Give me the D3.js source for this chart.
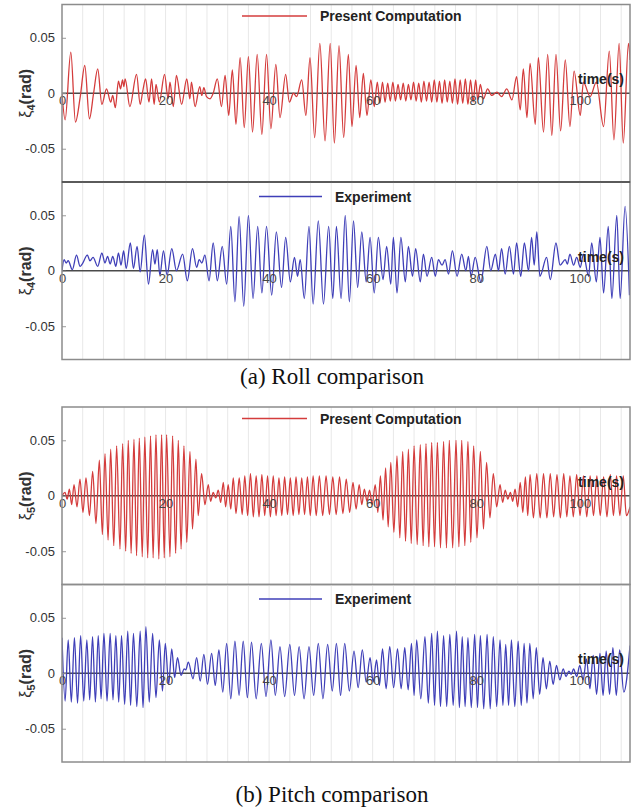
<!DOCTYPE html>
<html>
<head>
<meta charset="utf-8">
<script src="https://cdn.jsdelivr.net/npm/d3@7"></script>
<style>
body{margin:0;background:#fff;}
svg{display:block;font-family:"Liberation Sans",Arial,sans-serif;}
</style>
</head>
<body>
<script>
// extrema of each record, [time (s), angle (rad)]
const rollComputation = [[0,0],[0.6,-0.024],[1.7,0.037],[2.6,-0.026],[3.5,-0.004],[4.4,0.025],[5.3,-0.023],[6.1,0.0],[6.9,0.022],[7.7,-0.010],[8.6,0.004],[9.4,-0.008],[9.8,-0.002],[10.3,-0.013],[10.9,0.011],[11.3,0.004],[11.7,0.012],[11.95,0.006],[12.2,0.013],[13.1,-0.012],[14.4,0.017],[15.1,-0.010],[15.6,0.002],[16.15,0.013],[16.8,-0.008],[17.3,0.013],[17.8,-0.010],[18.15,0.008],[18.8,-0.008],[19.8,0.017],[20.5,-0.005],[20.85,0.010],[21.5,-0.012],[22.1,0.016],[23.1,-0.010],[24.1,0.013],[24.7,-0.005],[25.0,0.010],[25.7,-0.012],[26.6,0.006],[27.0,-0.002],[27.4,0.005],[27.9,-0.003],[28.6,-0.005],[29.2,0.000],[30.0,0.013],[30.8,-0.012],[31.5,0.016],[32.2,-0.020],[32.9,0.021],[33.6,-0.028],[34.4,0.032],[35.2,-0.031],[36.0,0.033],[36.8,-0.035],[37.7,0.035],[38.6,-0.037],[39.5,0.035],[40.35,-0.032],[41.3,0.026],[42.1,-0.022],[43.2,0.017],[43.9,-0.008],[44.7,0.000],[45.3,-0.003],[46.3,0.012],[47.1,-0.020],[47.9,0.032],[48.8,-0.040],[49.8,0.045],[50.8,-0.043],[51.8,0.045],[52.6,-0.045],[53.5,0.043],[54.4,-0.040],[55.3,0.035],[56.0,-0.030],[56.8,0.025],[57.5,-0.022],[58.2,0.018],[58.9,-0.020],[59.65,0.012],[60.3,-0.012],[60.9,0.010],[61.4,-0.009],[61.9,0.010],[62.4,-0.008],[62.9,0.009],[63.4,-0.007],[63.9,0.010],[64.4,-0.007],[64.9,0.008],[65.4,-0.006],[65.9,0.009],[66.4,-0.007],[66.9,0.008],[67.4,-0.006],[67.9,0.010],[68.4,-0.007],[68.9,0.009],[69.4,-0.008],[69.9,0.011],[70.4,-0.007],[70.9,0.010],[71.4,-0.008],[71.9,0.012],[72.4,-0.008],[72.9,0.011],[73.4,-0.009],[73.9,0.012],[74.4,-0.008],[74.9,0.011],[75.4,-0.009],[75.9,0.013],[76.4,-0.010],[76.9,0.012],[77.4,-0.009],[77.9,0.013],[78.4,-0.010],[78.9,0.012],[79.4,-0.008],[79.9,0.012],[80.3,-0.006],[80.8,0.008],[81.4,-0.005],[82.2,0.004],[83.0,-0.002],[84.0,0.001],[84.9,-0.003],[85.9,0.004],[86.9,-0.006],[87.8,0.015],[88.5,-0.015],[89.1,0.022],[89.8,-0.022],[90.4,0.027],[91.4,-0.028],[92.0,0.032],[93.0,-0.035],[93.8,0.035],[94.6,-0.038],[95.4,0.035],[96.3,-0.034],[97.2,0.030],[98.1,-0.030],[98.9,0.020],[100.1,-0.020],[100.7,0.010],[102.0,-0.003],[103.2,0.010],[104.6,-0.030],[105.7,0.038],[106.6,-0.042],[107.6,0.045],[108.4,-0.045],[109.4,0.045],[109.7,0.030]];

const rollExperiment = [[0,0.000],[0.4,0.010],[0.8,0.007],[1.2,0.009],[2.0,0.001],[2.8,0.014],[3.5,0.004],[3.9,0.006],[4.9,0.014],[5.4,0.009],[6.0,0.012],[6.9,0.004],[7.7,0.016],[8.3,0.007],[8.8,0.013],[9.3,0.006],[9.8,0.013],[10.4,0.004],[10.9,0.016],[11.4,0.005],[11.9,0.018],[12.4,0.002],[13.2,0.025],[13.8,0.002],[14.5,0.022],[15.1,-0.001],[15.9,0.032],[16.7,-0.012],[17.5,0.019],[17.95,0.006],[18.4,0.019],[18.9,-0.004],[19.6,0.018],[20.3,-0.004],[21.2,0.020],[22.1,0.000],[23.3,0.015],[24.2,-0.009],[25.2,0.020],[26.0,0.003],[26.5,0.010],[27.0,0.007],[27.6,0.014],[28.4,-0.009],[29.2,0.025],[30.0,-0.009],[30.95,0.022],[31.8,-0.012],[32.6,0.040],[33.4,-0.028],[34.2,0.049],[35.1,-0.032],[36.0,0.050],[36.9,-0.025],[37.8,0.040],[38.6,-0.020],[39.5,0.040],[40.5,-0.022],[41.4,0.035],[42.4,-0.015],[43.2,0.030],[44.1,-0.010],[44.9,0.012],[45.5,-0.005],[46.0,0.010],[46.8,-0.025],[47.7,0.040],[48.5,-0.030],[49.5,0.045],[50.5,-0.030],[51.5,0.040],[52.3,-0.025],[53.0,0.040],[53.9,-0.025],[54.7,0.050],[55.5,-0.028],[56.3,0.045],[57.1,-0.015],[57.9,0.035],[58.75,-0.010],[59.5,0.030],[60.3,-0.020],[61.1,0.030],[62.0,-0.008],[62.7,0.022],[63.5,-0.012],[64.0,0.030],[64.7,-0.020],[65.45,0.030],[66.3,-0.010],[66.9,0.022],[67.7,-0.005],[68.3,0.020],[69.2,-0.010],[69.8,0.015],[70.5,-0.005],[71.4,0.012],[72.1,-0.005],[72.7,0.010],[73.4,0.005],[74.0,0.010],[74.65,-0.003],[75.4,0.018],[76.3,-0.005],[77.2,0.015],[78.0,0.000],[78.5,0.013],[79.0,-0.005],[79.8,0.012],[80.9,-0.010],[82.05,0.022],[82.8,0.000],[83.7,0.015],[84.3,0.000],[84.9,0.020],[85.6,-0.003],[86.4,0.022],[87.2,-0.003],[87.8,0.025],[88.6,-0.005],[89.3,0.025],[90.1,0.000],[90.7,0.030],[91.2,0.005],[91.7,0.035],[92.3,-0.005],[93.6,0.012],[94.3,-0.008],[95.4,0.025],[96.2,0.005],[97.2,0.010],[97.6,0.006],[98.1,0.015],[98.8,0.005],[99.4,0.012],[100.1,0.003],[100.7,0.015],[101.7,-0.005],[102.3,0.025],[103.2,-0.010],[103.9,0.030],[104.6,-0.020],[105.5,0.040],[106.2,-0.025],[107.15,0.050],[107.8,-0.025],[108.75,0.058],[109.6,-0.022]];

const pitchComputation = [[0,0],[0.58,0.003],[1.0,-0.003],[1.42,0.006],[1.87,-0.008],[2.32,0.010],[2.9,-0.010],[3.47,0.015],[4.05,-0.015],[4.63,0.016],[5.3,-0.018],[5.92,0.022],[6.56,-0.025],[7.21,0.032],[7.8,-0.035],[8.3,0.038],[8.9,-0.040],[9.4,0.042],[10.0,-0.045],[10.55,0.045],[11.2,-0.048],[11.71,0.047],[12.3,-0.050],[12.8,0.050],[13.35,-0.052],[13.9,0.051],[14.4,-0.054],[14.93,0.052],[15.5,-0.055],[16.0,0.053],[16.55,-0.056],[17.1,0.054],[17.6,-0.056],[18.15,0.055],[18.7,-0.057],[19.24,0.055],[19.75,-0.056],[20.2,0.055],[20.85,-0.055],[21.36,0.054],[21.95,-0.052],[22.46,0.050],[23.0,-0.048],[23.55,0.045],[24.1,-0.042],[24.71,0.040],[25.2,-0.030],[25.87,0.033],[26.3,-0.018],[26.96,0.020],[27.6,-0.008],[28.25,0.010],[28.7,-0.005],[29.2,0.003],[29.7,-0.002],[30.18,0.005],[30.65,-0.006],[31.15,0.012],[31.6,-0.010],[32.1,0.010],[32.6,-0.012],[33.08,0.016],[33.6,-0.016],[34.23,0.016],[34.8,-0.017],[35.3,0.018],[35.85,-0.018],[36.4,0.020],[36.95,-0.019],[37.5,0.018],[38.05,-0.019],[38.6,0.019],[39.15,-0.018],[39.7,0.018],[40.25,-0.019],[40.8,0.018],[41.35,-0.018],[41.9,0.016],[42.45,-0.018],[43.0,0.017],[43.55,-0.017],[44.1,0.016],[44.65,-0.018],[45.2,0.017],[45.75,-0.017],[46.3,0.016],[46.85,-0.017],[47.4,0.017],[47.95,-0.018],[48.5,0.018],[49.1,-0.018],[49.7,0.018],[50.35,-0.018],[51.0,0.018],[51.65,-0.017],[52.3,0.017],[52.95,-0.017],[53.6,0.017],[54.25,-0.016],[54.9,0.015],[55.55,-0.015],[56.2,0.012],[56.8,-0.012],[57.4,0.010],[57.9,-0.008],[58.4,0.006],[58.9,-0.005],[59.4,0.005],[59.9,-0.008],[60.5,0.010],[61.0,-0.015],[61.5,0.018],[62.0,-0.022],[62.5,0.025],[63.0,-0.028],[63.5,0.030],[64.1,-0.033],[64.7,0.036],[65.25,-0.038],[65.8,0.040],[66.35,-0.041],[66.9,0.042],[67.45,-0.043],[68.0,0.045],[68.6,-0.044],[69.2,0.046],[69.75,-0.045],[70.3,0.047],[70.85,-0.046],[71.4,0.048],[71.95,-0.046],[72.5,0.048],[73.1,-0.047],[73.7,0.049],[74.25,-0.047],[74.8,0.050],[75.45,-0.047],[76.1,0.050],[76.65,-0.046],[77.2,0.050],[77.8,-0.045],[78.4,0.049],[78.95,-0.042],[79.5,0.045],[80.15,-0.038],[80.8,0.040],[81.4,-0.030],[82.0,0.030],[82.65,-0.020],[83.3,0.020],[83.95,-0.010],[84.6,0.010],[85.1,-0.006],[85.6,0.005],[86.1,-0.003],[86.6,0.003],[87.05,-0.005],[87.5,0.006],[88.0,-0.010],[88.5,0.012],[89.0,-0.015],[89.5,0.017],[89.95,-0.018],[90.4,0.019],[91.05,-0.020],[91.7,0.020],[92.35,-0.020],[93.0,0.020],[93.65,-0.020],[94.3,0.020],[94.95,-0.019],[95.6,0.019],[96.25,-0.020],[96.9,0.020],[97.5,-0.019],[98.1,0.018],[98.75,-0.019],[99.4,0.019],[100.05,-0.018],[100.7,0.018],[101.35,-0.019],[102.0,0.018],[102.65,-0.018],[103.3,0.018],[103.95,-0.018],[104.6,0.017],[105.25,-0.019],[105.9,0.019],[106.5,-0.018],[107.1,0.018],[107.75,-0.018],[108.4,0.018],[109.0,-0.018],[109.7,-0.010]];

const pitchExperiment = [[0,0.032],[0.6,-0.025],[1.2,0.030],[1.8,-0.026],[2.4,0.032],[3.0,-0.027],[3.6,0.034],[4.2,-0.025],[4.8,0.030],[5.35,-0.024],[5.9,0.033],[6.45,-0.026],[7.0,0.034],[7.55,-0.023],[8.1,0.036],[8.7,-0.025],[9.3,0.036],[9.85,-0.024],[10.4,0.034],[10.95,-0.026],[11.5,0.034],[12.1,-0.028],[12.7,0.038],[13.25,-0.029],[13.8,0.036],[14.45,-0.030],[15.1,0.038],[15.65,-0.031],[16.2,0.042],[16.85,-0.026],[17.5,0.036],[18.15,-0.022],[18.8,0.030],[19.4,-0.016],[19.95,0.027],[20.6,-0.010],[21.2,0.022],[21.75,-0.004],[22.3,0.014],[23.0,-0.002],[23.6,0.004],[23.9,0.003],[24.4,0.010],[25.3,-0.005],[26.0,0.014],[26.7,-0.007],[27.4,0.017],[28.1,-0.010],[28.9,0.018],[29.6,-0.011],[30.3,0.021],[31.05,-0.017],[31.8,0.027],[32.6,-0.023],[33.4,0.029],[34.2,-0.020],[35.0,0.029],[35.8,-0.022],[36.6,0.028],[37.5,-0.023],[38.5,0.027],[39.4,-0.021],[40.35,0.030],[41.2,-0.020],[42.1,0.024],[43.0,-0.021],[44.0,0.026],[44.9,-0.020],[45.8,0.024],[46.75,-0.023],[47.7,0.024],[48.6,-0.020],[49.5,0.027],[50.4,-0.023],[51.3,0.026],[52.2,-0.016],[53.0,0.027],[53.8,-0.020],[54.6,0.027],[55.5,-0.016],[56.4,0.020],[57.2,-0.013],[58.0,0.021],[58.75,-0.008],[59.5,0.014],[60.1,-0.008],[60.75,0.012],[61.3,-0.011],[61.9,0.022],[62.6,-0.014],[63.3,0.024],[64.05,-0.013],[64.8,0.022],[65.5,-0.014],[66.2,0.023],[66.85,-0.015],[67.5,0.027],[68.0,-0.020],[68.5,0.030],[69.3,-0.023],[70.1,0.033],[70.75,-0.027],[71.4,0.036],[71.95,-0.029],[72.5,0.038],[73.1,-0.030],[73.7,0.034],[74.3,-0.030],[74.9,0.035],[75.55,-0.029],[76.2,0.038],[76.75,-0.031],[77.3,0.033],[77.85,-0.030],[78.4,0.032],[79.05,-0.031],[79.7,0.035],[80.25,-0.031],[80.8,0.034],[81.45,-0.032],[82.1,0.035],[82.7,-0.032],[83.3,0.033],[83.95,-0.030],[84.6,0.030],[85.15,-0.029],[85.7,0.026],[86.25,-0.029],[86.8,0.030],[87.45,-0.030],[88.1,0.029],[88.7,-0.029],[89.25,0.027],[89.8,-0.027],[90.35,0.027],[91.0,-0.023],[91.6,0.023],[92.25,-0.019],[92.9,0.014],[93.55,-0.014],[94.2,0.011],[94.85,-0.010],[95.5,0.007],[96.15,-0.006],[96.8,0.004],[97.35,-0.003],[97.9,0.002],[98.35,-0.001],[98.8,0.004],[99.4,-0.003],[100.0,0.007],[100.65,-0.006],[101.3,0.013],[101.95,-0.014],[102.6,0.016],[103.25,-0.019],[103.9,0.018],[104.5,-0.020],[105.1,0.020],[105.75,-0.019],[106.4,0.023],[107.05,-0.020],[107.7,0.021],[108.5,-0.017],[109.7,0.025]];

const xTicks = [0, 20, 40, 60, 80, 100];
const yTicks = [-0.05, 0, 0.05];
const yTickLabels = ["-0.05", "0", "0.05"];
const legendNames = ["Present Computation", "Experiment"];
const captions = ["(a) Roll comparison", "(b) Pitch comparison"];

const W = 637, H = 811;
const left = 62, right = 630, panelH = 177.5;
const red = "#d43c3c", blue = "#3f3fb8";

const svg = d3.select("body").append("svg").attr("width", W).attr("height", H);

const x = d3.scaleLinear().domain([0, 109.7]).range([left, right]);

const panels = [
  {data: rollComputation, top: 4.5, color: red, legend: 0, sub: "4", legendDy: 11.5},
  {data: rollExperiment, top: 182, color: blue, legend: 1, sub: "4", legendDy: 14.5},
  {data: pitchComputation, top: 407, color: red, legend: 0, sub: "5", legendDy: 11.5},
  {data: pitchExperiment, top: 584.5, color: blue, legend: 1, sub: "5", legendDy: 14.5}
];

panels.forEach((p, i) => {
  const y = d3.scaleLinear().domain([-0.08, 0.08]).range([p.top + panelH, p.top]);
  const g = svg.append("g");

  svg.append("clipPath").attr("id", "clip" + i).append("rect")
    .attr("x", left).attr("y", p.top).attr("width", right - left).attr("height", panelH);

  // light vertical grid
  g.selectAll(".grid").data(d3.range(4, 109.7, 4)).join("line")
    .attr("x1", d => x(d)).attr("x2", d => x(d))
    .attr("y1", p.top).attr("y2", p.top + panelH)
    .attr("stroke", "#e8e8e8").attr("stroke-width", 1);

  // zero axis
  g.append("line").attr("x1", left).attr("x2", right).attr("y1", y(0)).attr("y2", y(0))
    .attr("stroke", "#4a4a4a").attr("stroke-width", 1.3);

  const line = d3.line().x(d => x(d[0])).y(d => y(d[1])).curve(d3.curveMonotoneX);
  g.append("path").datum(p.data).attr("d", line)
    .attr("clip-path", `url(#clip${i})`)
    .attr("fill", "none").attr("stroke", p.color).attr("stroke-width", 1.3);

  // x tick labels sit on the zero line
  const xAxis = d3.axisBottom(x).tickValues(xTicks).tickSize(0).tickPadding(3);
  const xa = g.append("g").attr("transform", `translate(0,${y(0)})`).call(xAxis);
  xa.select(".domain").remove();
  xa.selectAll("text").attr("font-size", 13).attr("fill", "#444")
    .attr("font-family", "'Liberation Sans',Arial,sans-serif");

  const yAxis = d3.axisLeft(y).tickValues(yTicks).tickFormat((d, k) => yTickLabels[k])
    .tickSizeInner(-4).tickSizeOuter(0).tickPadding(7);
  const ya = g.append("g").attr("transform", `translate(${left},0)`).call(yAxis);
  ya.select(".domain").remove();
  ya.selectAll("line").attr("stroke", "#999");
  ya.selectAll("text").attr("font-size", 13).attr("fill", "#333")
    .attr("font-family", "'Liberation Sans',Arial,sans-serif");

  // frame
  g.append("rect").attr("x", left).attr("y", p.top).attr("width", right - left).attr("height", panelH)
    .attr("fill", "none").attr("stroke", "#8c8c8c").attr("stroke-width", 1.5);

  g.append("text").attr("x", 624).attr("y", y(0) - 9).attr("text-anchor", "end")
    .attr("font-size", 14).attr("font-weight", "bold").attr("fill", "#222").text("time(s)");

  // y label
  const yl = g.append("text").attr("transform", `translate(31,${y(0)}) rotate(-90)`)
    .attr("text-anchor", "middle").attr("font-size", 16).attr("font-weight", "bold").attr("fill", "#333");
  yl.append("tspan").attr("font-weight", "normal").text("ξ");
  yl.append("tspan").attr("font-size", 11).attr("dy", 4).text(p.sub);
  yl.append("tspan").attr("dy", -4).text("(rad)");

  // legend
  const ly = p.top + p.legendDy;
  g.append("line").attr("x1", p.legend === 0 ? 242 : 259).attr("x2", p.legend === 0 ? 307 : 322)
    .attr("y1", ly).attr("y2", ly).attr("stroke", p.color).attr("stroke-width", 1.3);
  g.append("text").attr("x", p.legend === 0 ? 320 : 335).attr("y", ly + 5)
    .attr("font-size", 14).attr("font-weight", "bold").attr("fill", "#222").text(legendNames[p.legend]);
});

// line between the stacked roll panels is dark
svg.append("line").attr("x1", left).attr("x2", right).attr("y1", 182).attr("y2", 182)
  .attr("stroke", "#222").attr("stroke-width", 1.2);

svg.selectAll(".caption").data(captions).join("text")
  .attr("x", 332).attr("y", (d, i) => i === 0 ? 384 : 802)
  .attr("text-anchor", "middle").attr("font-family", "'Liberation Serif','Times New Roman',serif")
  .attr("font-size", 23).attr("fill", "#111").text(d => d);
</script>
</body>
</html>
